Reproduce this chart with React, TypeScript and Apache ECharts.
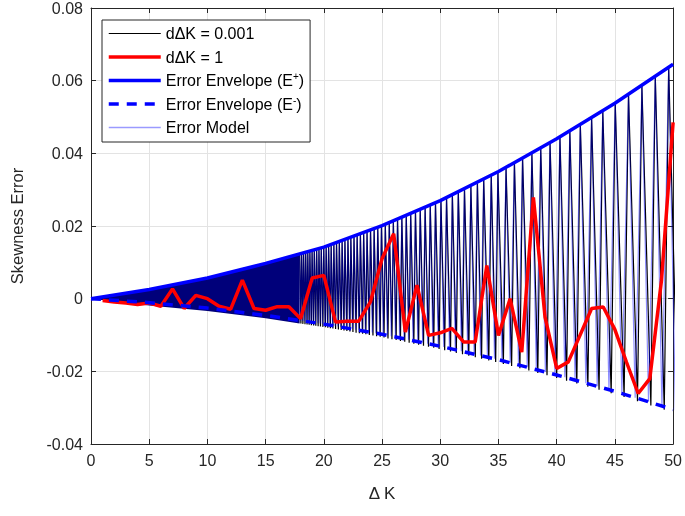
import React, { useEffect, useRef } from "react";
import * as echarts from "echarts";

// ---- data ----
const envK = [0, 5, 10, 15, 20, 25, 30, 35, 40, 45, 50];
const envUpper = [0, 0.0025, 0.0057, 0.0097, 0.0142, 0.0201, 0.027, 0.035, 0.044, 0.0538, 0.0645];
const envLower = [0, -0.0011, -0.0026, -0.0046, -0.007, -0.0098, -0.0131, -0.0168, -0.021, -0.0255, -0.0305];

const redK = Array.from({ length: 50 }, (_, i) => i + 1);
const redValues = [
  -0.0005, -0.0009, -0.0012, -0.0016, -0.0012, -0.0021, 0.0027, -0.0027, 0.0009, 0.0,
  -0.0021, -0.0029, 0.0051, -0.0027, -0.0032, -0.0022, -0.0022, -0.0055, 0.0057, 0.0064,
  -0.0064, -0.0062, -0.0062, -0.0009, 0.011, 0.0179, -0.0092, 0.0037, -0.0101, -0.0094,
  -0.0082, -0.0119, -0.0119, 0.0091, -0.0101, 0.0, -0.0147, 0.0279, -0.0051, -0.0192,
  -0.0174, -0.0101, -0.0027, -0.0023, -0.0085, -0.0175, -0.0261, -0.022, 0.005, 0.0485,
];

// ΔK positions where the dΔK = 0.001 curve touches E+ (peaks) and E− (troughs)
const blackPeakK = [
  17.92, 18.09, 18.26, 18.44, 18.62, 18.8, 18.99, 19.18, 19.38, 19.58, 19.78, 19.99, 20.2, 20.41,
  20.63, 20.86, 21.09, 21.33, 21.57, 21.81, 22.07, 22.32, 22.59, 22.86, 23.14, 23.42, 23.71, 24.01,
  24.32, 24.63, 24.95, 25.28, 25.62, 25.97, 26.33, 26.7, 27.08, 27.46, 27.87, 28.28, 28.7, 29.14,
  29.59, 30.06, 30.54, 31.04, 31.55, 32.08, 32.63, 33.19, 33.73, 34.38, 34.95, 35.65, 36.37, 37.07,
  37.87, 38.63, 39.43, 40.28, 41.13, 42.03, 43.0, 43.96, 45.03, 46.17, 47.32, 48.47, 49.62,
];
const blackTroughK = [
  18.03, 18.2, 18.38, 18.56, 18.74, 18.93, 19.12, 19.31, 19.51, 19.71, 19.92, 20.13, 20.34, 20.56,
  20.78, 21.01, 21.25, 21.49, 21.73, 21.98, 22.24, 22.5, 22.77, 23.05, 23.33, 23.61, 23.91, 24.22,
  24.53, 24.84, 25.17, 25.51, 25.85, 26.21, 26.58, 26.95, 27.33, 27.73, 28.14, 28.56, 28.99, 29.44,
  29.9, 30.38, 30.88, 31.38, 31.91, 32.45, 33.01, 33.55, 34.17, 34.76, 35.42, 36.13, 36.84, 37.61,
  38.38, 39.17, 40.0, 40.85, 41.73, 42.68, 43.64, 44.68, 45.79, 46.94, 48.09, 49.24, 50.4,
];
const blackTroughDip = 0.0008; // black tips reach slightly below E−
// Error model troughs (its peaks coincide with the black ones)
const modelTroughK = [
  18.0, 18.18, 18.35, 18.53, 18.71, 18.9, 19.08, 19.28, 19.48, 19.68, 19.88, 20.1, 20.3, 20.52,
  20.74, 20.97, 21.21, 21.45, 21.69, 21.94, 22.19, 22.45, 22.72, 23.0, 23.28, 23.56, 23.86, 24.16,
  24.47, 24.79, 25.11, 25.45, 25.79, 26.15, 26.51, 26.89, 27.27, 27.66, 28.07, 28.49, 28.92, 29.36,
  29.82, 30.3, 30.79, 31.29, 31.81, 32.35, 32.91, 33.46, 34.05, 34.66, 35.3, 36.01, 36.72, 37.47,
  38.25, 39.03, 39.85, 40.7, 41.58, 42.51, 43.48, 44.49, 45.6, 46.74, 47.89, 49.04, 50.2,
];

const xTicks = { min: 0, max: 50, interval: 5 };
const yTicks = { min: -0.04, max: 0.08, interval: 0.02 };

const names = ["dΔK = 0.001", "dΔK = 1", "Error Envelope (E+)", "Error Envelope (E-)", "Error Model"];

function envAt(arr: number[], k: number): number {
  const n = envK.length;
  let i = 0;
  while (i < n - 2 && k > envK[i + 1]) i++;
  const t = (k - envK[i]) / (envK[i + 1] - envK[i]);
  return arr[i] + t * (arr[i + 1] - arr[i]);
}

function turning(peaks: number[], troughs: number[], dip: number): number[][] {
  const pts: number[][] = [];
  peaks.forEach((k) => pts.push([k, envAt(envUpper, k)]));
  troughs.forEach((k) => pts.push([k, envAt(envLower, k) - dip]));
  pts.sort((a, b) => a[0] - b[0]);
  return pts;
}

const FONT = "'Liberation Sans', Arial, Helvetica, sans-serif";
const AX = "#262626";
const MODEL_COLOR = "rgba(0,0,255,0.45)";

export default function App() {
  const ref = useRef<HTMLDivElement>(null);
  useEffect(() => {
    if (!ref.current) return;
    const chart = echarts.init(ref.current, null, { renderer: "svg" });
    const bandEnd = blackPeakK[0];

    const axisCommon = {
      type: "value" as const,
      axisLine: { show: true, onZero: false, lineStyle: { color: AX, width: 1 } },
      axisTick: { show: true, inside: true, length: 5, lineStyle: { color: AX } },
    };

    const legendLine = [
      { color: "#000000", width: 1.2 },
      { color: "#ff0000", width: 3.5 },
      { color: "#0000ff", width: 3.5 },
      { color: "#0000ff", width: 3.5, type: [10, 8] },
      { color: "#9a9aff", width: 1.6 },
    ];

    chart.setOption({
      animation: false,
      textStyle: { fontFamily: FONT },
      grid: { left: 89, right: 8, top: 7, bottom: 72 },
      legend: {
        data: names.map((n, i) => ({ name: n, lineStyle: legendLine[i], itemStyle: { opacity: 0 } })),
        orient: "vertical",
        left: 102,
        top: 20,
        itemWidth: 52,
        itemHeight: 14,
        itemGap: 5.5,
        padding: [4.5, 6, 5.5, 5],
        borderColor: AX,
        borderWidth: 1,
        backgroundColor: "#fff",
        itemStyle: { opacity: 0 },
        textStyle: {
          fontFamily: FONT,
          fontSize: 16,
          color: "#000",
          lineHeight: 18,
          rich: { sup: { fontFamily: FONT, fontSize: 10, verticalAlign: "top", lineHeight: 18, color: "#000" } },
        },
        formatter: (name: string) => {
          if (name === "Error Envelope (E+)") return "Error Envelope (E{sup|+})";
          if (name === "Error Envelope (E-)") return "Error Envelope (E{sup|-})";
          return name;
        },
      },
      xAxis: [
        {
          ...axisCommon,
          ...xTicks,
          position: "bottom",
          axisLabel: { fontFamily: FONT, fontSize: 16, color: AX, margin: 8 },
          splitLine: { show: true, lineStyle: { color: "#e3e3e3", width: 1 } },
          name: "Δ K",
          nameLocation: "middle",
          nameGap: 41,
          nameTextStyle: { fontFamily: FONT, fontSize: 17, color: AX },
        },
        {
          ...axisCommon,
          ...xTicks,
          position: "top",
          axisLabel: { show: false },
          splitLine: { show: false },
        },
      ],
      yAxis: [
        {
          ...axisCommon,
          ...yTicks,
          position: "left",
          axisLabel: {
            fontFamily: FONT,
            fontSize: 16,
            color: AX,
            margin: 8,
            formatter: (v: number) => String(parseFloat(v.toFixed(2))),
          },
          splitLine: { show: true, lineStyle: { color: "#e3e3e3", width: 1 } },
          name: "Skewness Error",
          nameLocation: "middle",
          nameGap: 66,
          nameTextStyle: { fontFamily: FONT, fontSize: 16.5, color: AX },
        },
        {
          ...axisCommon,
          ...yTicks,
          position: "right",
          axisLabel: { show: false },
          splitLine: { show: false },
        },
      ],
      series: [
        {
          type: "custom",
          name: "band",
          silent: true,
          z: 1,
          data: [[0, 0]],
          renderItem: (_params: any, api: any) => {
            const pts: number[][] = [];
            envK.forEach((k, i) => {
              if (k < bandEnd) pts.push(api.coord([k, envUpper[i]]));
            });
            pts.push(api.coord([bandEnd, envAt(envUpper, bandEnd)]));
            pts.push(api.coord([bandEnd, envAt(envLower, bandEnd) - blackTroughDip]));
            for (let i = envK.length - 1; i >= 0; i--) {
              if (envK[i] < bandEnd) pts.push(api.coord([envK[i], envLower[i] - (envK[i] > 0 ? blackTroughDip : 0)]));
            }
            return { type: "polygon", shape: { points: pts }, style: { fill: "#00007a" } };
          },
        },
        {
          type: "line",
          name: names[0],
          z: 2,
          symbol: "none",
          data: turning(blackPeakK, blackTroughK, blackTroughDip),
          lineStyle: { color: "#000", width: 1.2 },
          itemStyle: { color: "#000" },
        },
        {
          type: "line",
          name: names[1],
          z: 4,
          symbol: "none",
          data: redK.map((k, i) => [k, redValues[i]]),
          lineStyle: { color: "#ff0000", width: 3.5 },
          itemStyle: { color: "#ff0000" },
        },
        {
          type: "line",
          name: names[2],
          z: 5,
          symbol: "none",
          data: envK.map((k, i) => [k, envUpper[i]]),
          lineStyle: { color: "#0000ff", width: 3.5 },
          itemStyle: { color: "#0000ff" },
        },
        {
          type: "line",
          name: names[3],
          z: 5,
          symbol: "none",
          data: envK.map((k, i) => [k, envLower[i]]),
          lineStyle: { color: "#0000ff", width: 3.5, type: [10, 8] },
          itemStyle: { color: "#0000ff" },
        },
        {
          type: "line",
          name: names[4],
          z: 3,
          symbol: "none",
          data: turning(blackPeakK, modelTroughK, 0),
          lineStyle: { color: MODEL_COLOR, width: 1.2 },
          itemStyle: { color: MODEL_COLOR },
        },
      ],
    });
    return () => chart.dispose();
  }, []);

  return <div ref={ref} style={{ position: "fixed", left: 0, top: 0, width: 685, height: 516 }} />;
}
